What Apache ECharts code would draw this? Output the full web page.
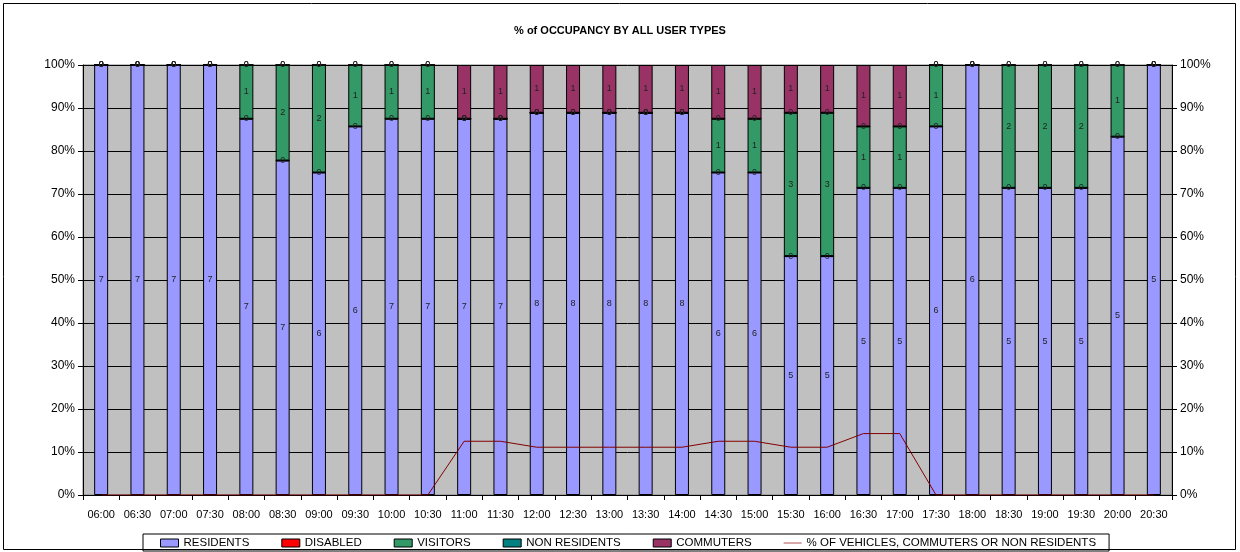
<!DOCTYPE html>
<html>
<head>
<meta charset="utf-8">
<script src="https://cdn.jsdelivr.net/npm/echarts@6/dist/echarts.min.js"></script>
<style>
  html, body { margin: 0; padding: 0; background: #fff; }
  #graph { width: 1240px; height: 552px; }
</style>
</head>
<body>
<div id="graph"></div>
<script>
  var myChart = echarts.init(document.getElementById('graph'));
  // time slots
  var times = ["06:00", "06:30", "07:00", "07:30", "08:00", "08:30", "09:00", "09:30", "10:00", "10:30",
    "11:00", "11:30", "12:00", "12:30", "13:00", "13:30", "14:00", "14:30", "15:00", "15:30",
    "16:00", "16:30", "17:00", "17:30", "18:00", "18:30", "19:00", "19:30", "20:00", "20:30"];
  // vehicle counts per user type
  var residents = [7, 7, 7, 7, 7, 7, 6, 6, 7, 7, 7, 7, 8, 8, 8, 8, 8, 6, 6, 5, 5, 5, 5, 6, 6, 5, 5, 5, 5, 5];
  var disabled = [0, 0, 0, 0, 0, 0, 0, 0, 0, 0, 0, 0, 0, 0, 0, 0, 0, 0, 0, 0, 0, 0, 0, 0, 0, 0, 0, 0, 0, 0];
  var visitors = [0, 0, 0, 0, 1, 2, 2, 1, 1, 1, 0, 0, 0, 0, 0, 0, 0, 1, 1, 3, 3, 1, 1, 1, 0, 2, 2, 2, 1, 0];
  var nonResidents = [0, 0, 0, 0, 0, 0, 0, 0, 0, 0, 0, 0, 0, 0, 0, 0, 0, 0, 0, 0, 0, 0, 0, 0, 0, 0, 0, 0, 0, 0];
  var commuters = [0, 0, 0, 0, 0, 0, 0, 0, 0, 0, 1, 1, 1, 1, 1, 1, 1, 1, 1, 1, 1, 1, 1, 0, 0, 0, 0, 0, 0, 0];
  var yTicks = [0, 10, 20, 30, 40, 50, 60, 70, 80, 90, 100];

  var totals = times.map(function (t, i) {
    return residents[i] + disabled[i] + visitors[i] + nonResidents[i] + commuters[i];
  });
  function pct(arr) {
    return arr.map(function (v, i) { return v / totals[i] * 100; });
  }
  var linePct = times.map(function (t, i) {
    return (commuters[i] + nonResidents[i]) / totals[i] * 100;
  });

  function barSeries(name, arr, color) {
    return {
      name: name,
      type: 'bar',
      stack: 'all',
      barWidth: 14,
      data: pct(arr),
      itemStyle: { color: color, borderColor: '#000', borderWidth: 1 },
      label: {
        show: true,
        position: 'inside',
        fontSize: 9,
        fontFamily: 'Liberation Sans, Arial',
        color: '#222',
        formatter: function (p) { return arr[p.dataIndex]; }
      }
    };
  }

  var boxIcon = { borderColor: '#000', borderWidth: 1 };

  var option = {
    animation: false,
    title: {
      text: '% of OCCUPANCY BY ALL USER TYPES',
      left: 'center',
      top: 20,
      textStyle: { fontSize: 11, fontWeight: 'bold', color: '#000', fontFamily: 'Liberation Sans, Arial' }
    },
    graphic: [{
      type: 'rect',
      shape: { x: 3.5, y: 3.5, width: 1232, height: 546 },
      style: { fill: 'none', stroke: '#000', lineWidth: 1 },
      z: -1
    }],
    legend: {
      bottom: 1,
      left: 143,
      itemGap: 32,
      itemWidth: 18,
      itemHeight: 8,
      padding: [3, 13, 2, 17],
      borderColor: '#000',
      borderWidth: 1,
      textStyle: { fontSize: 11.5, color: '#000', fontFamily: 'Liberation Sans, Arial' },
      data: [
        { name: 'RESIDENTS', icon: 'rect', itemStyle: boxIcon },
        { name: 'DISABLED', icon: 'rect', itemStyle: boxIcon },
        { name: 'VISITORS', icon: 'rect', itemStyle: boxIcon },
        { name: 'NON RESIDENTS', icon: 'rect', itemStyle: boxIcon },
        { name: 'COMMUTERS', icon: 'rect', itemStyle: boxIcon },
        { name: '% OF VEHICLES, COMMUTERS OR NON RESIDENTS', icon: 'path://M0,4 L18,4 L18,5 L0,5 Z' }
      ]
    },
    grid: {
      left: 83,
      right: 68,
      top: 65,
      bottom: 57,
      show: true,
      backgroundColor: '#C0C0C0',
      borderColor: '#808080',
      borderWidth: 1
    },
    xAxis: {
      type: 'category',
      data: times,
      axisLine: { lineStyle: { color: '#000' } },
      axisTick: { show: true, lineStyle: { color: '#000' } },
      axisLabel: { fontSize: 11, color: '#000', fontFamily: 'Liberation Sans, Arial', margin: 14, interval: 0 }
    },
    yAxis: [{
      type: 'value',
      min: yTicks[0],
      max: yTicks[yTicks.length - 1],
      interval: 10,
      axisLine: { show: true, lineStyle: { color: '#000' } },
      axisTick: { show: true, lineStyle: { color: '#000' } },
      splitLine: { lineStyle: { color: '#000', width: 1 } },
      axisLabel: { fontSize: 12, color: '#000', fontFamily: 'Liberation Sans, Arial', formatter: '{value}%' }
    }, {
      type: 'value',
      min: yTicks[0],
      max: yTicks[yTicks.length - 1],
      interval: 10,
      position: 'right',
      axisLine: { show: true, lineStyle: { color: '#000' } },
      axisTick: { show: true, lineStyle: { color: '#000' } },
      splitLine: { show: false },
      axisLabel: { fontSize: 12, color: '#000', fontFamily: 'Liberation Sans, Arial', formatter: '{value}%' }
    }],
    series: [
      barSeries('RESIDENTS', residents, '#9999FF'),
      barSeries('DISABLED', disabled, '#FF0000'),
      barSeries('VISITORS', visitors, '#339966'),
      barSeries('NON RESIDENTS', nonResidents, '#008080'),
      barSeries('COMMUTERS', commuters, '#993366'),
      {
        name: '% OF VEHICLES, COMMUTERS OR NON RESIDENTS',
        type: 'line',
        data: linePct,
        symbol: 'none',
        lineStyle: { color: '#800000', width: 1 },
        itemStyle: { color: '#B05050' },
        z: 5
      }
    ]
  };
  myChart.setOption(option);
</script>
</body>
</html>
